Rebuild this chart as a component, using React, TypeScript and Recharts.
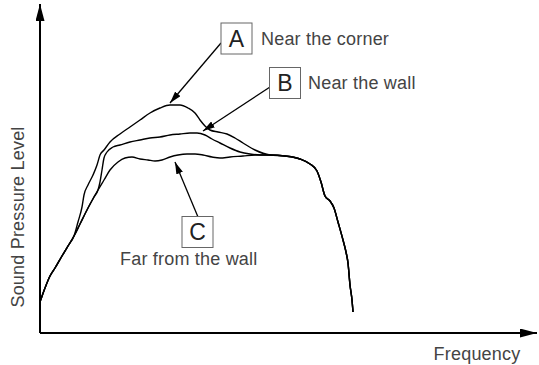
import React from 'react';
import { LineChart, Line, XAxis, YAxis, ReferenceLine, ReferenceDot } from 'recharts';

// frequency / level (arbitrary units)
const headPts = [[0, 31], [5, 45], [10, 57], [15, 65], [22, 77], [28, 87], [34, 97]];
const cornerPts = [
  [38, 111], [42, 126], [44, 138], [48, 148], [53, 158], [57, 168], [60, 178], [64, 183], [70, 191],
  [80, 199], [90, 206], [100, 213], [110, 220], [120, 225], [130, 228], [140, 228], [148, 225],
  [155, 220], [160, 213], [165, 207], [170, 203], [178, 201], [187, 199], [195, 195], [203, 190],
  [215, 183],
];
const wallPts = [
  [40, 109], [48, 125], [54, 136], [58, 143], [60, 151], [62, 163], [64, 175], [67, 181], [73, 186],
  [80, 188], [90, 191], [100, 193], [110, 195], [120, 196], [130, 198], [140, 199], [150, 200],
  [157, 200], [165, 198], [172, 194], [180, 190], [190, 185], [200, 181], [210, 179], [220, 178],
];
const farPts = [
  [40, 109], [48, 125], [54, 136], [58, 143], [64, 153], [70, 163], [78, 171], [85, 175], [92, 176],
  [100, 174], [108, 173], [115, 172], [122, 173], [130, 176], [138, 178], [147, 179], [155, 179],
  [163, 178], [172, 176], [180, 175], [190, 176], [203, 177], [215, 178],
];
const tailPts = [
  [230, 178], [245, 177], [260, 174], [270, 169], [277, 162], [281, 151], [285, 137], [290, 132],
  [294, 125], [298, 111], [303, 93], [306, 81], [308, 70], [310, 48], [312, 33], [313, 21],
];

const letters = ['A', 'B', 'C'];
const notes = ['Near the corner', 'Near the wall', 'Far from the wall'];

const toRows = (pts: number[][]) => pts.map(([f, spl]) => ({ f, spl }));
const series = [cornerPts, wallPts, farPts].map(b => toRows([...headPts, ...b, ...tailPts]));

// annotation placement, in chart units
const boxAt = [[196.5, 294.5], [245, 250], [157.5, 101]];
const noteAt = [[221, 288], [268, 244], [80, 68]];
const arrows = [
  [[181, 290], [130, 230]],
  [[230, 246], [163, 202]],
  [[158, 116], [135, 171]],
];

const ink = '#444';
const font = '"Liberation Sans", Arial, sans-serif';

const Box = ({ cx, cy, letter }: any) => (
  <g>
    <rect x={cx - 15.5} y={cy - 15.5} width={31} height={31} fill="#fff" stroke="#666" strokeWidth={1} />
    <text x={cx} y={cy + 8} textAnchor="middle" fontSize={23} fontFamily={font} fill="#222">{letter}</text>
  </g>
);

const Txt = ({ cx, cy, children, anchor = 'start', rotate = false }: any) => (
  <text
    x={cx}
    y={cy}
    textAnchor={anchor}
    fontSize={18}
    letterSpacing={0.2}
    fontFamily={font}
    fill={ink}
    transform={rotate ? `rotate(-90 ${cx} ${cy})` : undefined}
  >
    {children}
  </text>
);

export default function App() {
  return (
    <div style={{ position: 'absolute', left: 0, top: 0, width: 539, height: 365, background: '#fff' }}>
      <svg width={0} height={0} style={{ position: 'absolute' }}>
        <defs>
          <marker id="axisHead" viewBox="0 0 17 9" refX={17} refY={4.5} markerWidth={17} markerHeight={9}
            markerUnits="userSpaceOnUse" orient="auto">
            <path d="M0,0 L17,4.5 L0,9 z" fill="#000" />
          </marker>
          <marker id="noteHead" viewBox="0 0 12 7" refX={12} refY={3.5} markerWidth={12} markerHeight={7}
            markerUnits="userSpaceOnUse" orient="auto">
            <path d="M0,0 L12,3.5 L0,7 z" fill="#000" />
          </marker>
        </defs>
      </svg>
      <LineChart width={539} height={365} data={series[0]} margin={{ top: 4, right: 2, bottom: 32, left: 40 }}>
        <XAxis type="number" dataKey="f" domain={[0, 497]} allowDataOverflow hide />
        <YAxis type="number" domain={[0, 329]} allowDataOverflow hide />
        <ReferenceLine segment={[{ x: 0, y: 0 }, { x: 497, y: 0 }]} stroke="#000" strokeWidth={2}
          markerEnd="url(#axisHead)" ifOverflow="visible" />
        <ReferenceLine segment={[{ x: 0, y: 0 }, { x: 0, y: 329 }]} stroke="#000" strokeWidth={2}
          markerEnd="url(#axisHead)" ifOverflow="visible" />
        {series.map((rows, i) => (
          <Line key={i} data={rows} dataKey="spl" type="monotone" stroke="#000" strokeWidth={1.4}
            dot={false} activeDot={false} isAnimationActive={false} />
        ))}
        {arrows.map(([a, b], i) => (
          <ReferenceLine key={'ar' + i} segment={[{ x: a[0], y: a[1] }, { x: b[0], y: b[1] }]} stroke="#000"
            strokeWidth={1.3} markerEnd="url(#noteHead)" ifOverflow="visible" />
        ))}
        {boxAt.map(([x, y], i) => (
          <ReferenceDot key={'bx' + i} x={x} y={y} r={0} ifOverflow="visible"
            shape={(p: any) => <Box cx={p.cx} cy={p.cy} letter={letters[i]} />} />
        ))}
        {noteAt.map(([x, y], i) => (
          <ReferenceDot key={'nt' + i} x={x} y={y} r={0} ifOverflow="visible"
            shape={(p: any) => <Txt cx={p.cx} cy={p.cy}>{notes[i]}</Txt>} />
        ))}
        <ReferenceDot x={437} y={-27} r={0} ifOverflow="visible"
          shape={(p: any) => <Txt cx={p.cx} cy={p.cy} anchor="middle">Frequency</Txt>} />
        <ReferenceDot x={-22} y={116} r={0} ifOverflow="visible"
          shape={(p: any) => <Txt cx={p.cx + 6} cy={p.cy} anchor="middle" rotate>Sound Pressure Level</Txt>} />
      </LineChart>
    </div>
  );
}
